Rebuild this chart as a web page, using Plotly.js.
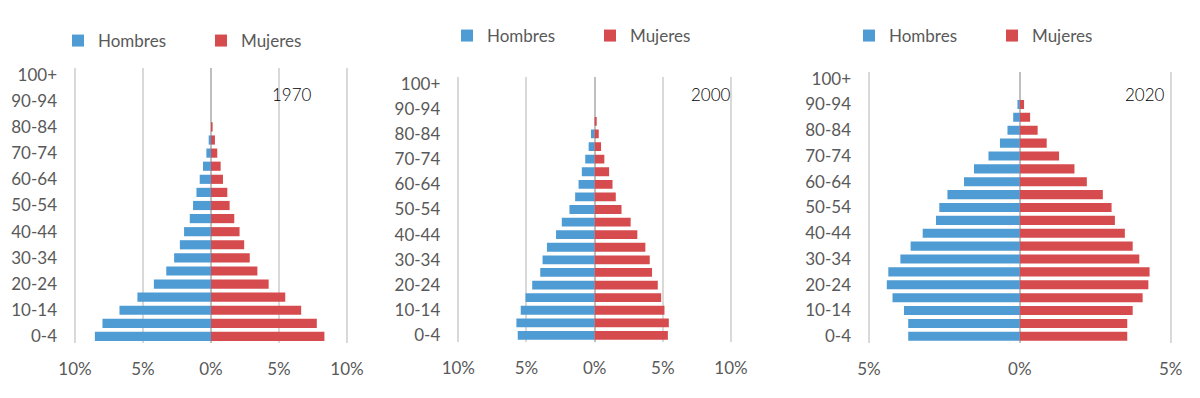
<!DOCTYPE html>
<html>
<head>
<meta charset="utf-8">
<script src="https://cdn.plot.ly/plotly-3.0.1.min.js"></script>
<style>html,body{margin:0;padding:0;background:#fff;}#chart{width:1200px;height:398px;}</style>
</head>
<body>
<div id="chart"></div>
<script>
// Age groups (bottom to top)
const ages = ['0-4','5-9','10-14','15-19','20-24','25-29','30-34','35-39','40-44','45-49',
              '50-54','55-59','60-64','65-69','70-74','75-79','80-84','85-89','90-94','95-99','100+'];
const ageTicks = ['0-4','10-14','20-24','30-34','40-44','50-54','60-64','70-74','80-84','90-94','100+'];

// Percent of population
const hombres1970 = [8.54,7.98,6.73,5.41,4.20,3.29,2.71,2.29,1.98,1.56,1.32,1.07,0.83,0.59,0.34,0.17,0,0,0,0,0];
const mujeres1970 = [8.34,7.78,6.63,5.46,4.24,3.41,2.85,2.44,2.10,1.71,1.37,1.20,0.88,0.71,0.46,0.29,0.12,0,0,0,0];
const hombres2000 = [5.64,5.74,5.42,5.07,4.58,3.99,3.82,3.50,2.83,2.41,1.85,1.43,1.18,0.94,0.69,0.44,0.27,0,0,0,0];
const mujeres2000 = [5.37,5.44,5.12,4.88,4.63,4.21,4.04,3.72,3.13,2.64,1.97,1.55,1.31,1.06,0.71,0.47,0.30,0.15,0,0,0];
const hombres2020 = [3.70,3.70,3.84,4.22,4.41,4.36,3.96,3.62,3.22,2.78,2.67,2.40,1.85,1.52,1.04,0.66,0.41,0.22,0.08,0,0];
const mujeres2020 = [3.56,3.56,3.74,4.07,4.26,4.30,3.96,3.74,3.48,3.15,3.04,2.75,2.22,1.81,1.30,0.89,0.59,0.34,0.14,0,0];

const years = ['1970','2000','2020'];
const seriesNames = ['Hombres','Mujeres'];
const xTicks10 = [-10,-5,0,5,10];
const xTickText10 = ['10%','5%','0%','5%','10%'];
const xTicks5 = [-5,0,5];
const xTickText5 = ['5%','0%','5%'];

const BLUE = '#4f9bd4';
const RED = '#d64b4d';
const FONT = 'Lato, "Open Sans", sans-serif';
const W = 1200, H = 398;

const panels = [
  {h: hombres1970, m: mujeres1970, ax: '', leg: 'legend'},
  {h: hombres2000, m: mujeres2000, ax: '2', leg: 'legend2'},
  {h: hombres2020, m: mujeres2020, ax: '3', leg: 'legend3'}
];

const traces = [];
panels.forEach(p => {
  traces.push({
    type: 'bar', orientation: 'h', name: seriesNames[0],
    y: ages, x: p.h.map(v => -v),
    marker: {color: BLUE}, xaxis: 'x' + p.ax, yaxis: 'y' + p.ax,
    legend: p.leg, hoverinfo: 'skip'
  });
  traces.push({
    type: 'bar', orientation: 'h', name: seriesNames[1],
    y: ages, x: p.m,
    marker: {color: RED}, xaxis: 'x' + p.ax, yaxis: 'y' + p.ax,
    legend: p.leg, hoverinfo: 'skip'
  });
});

// pad the range by a few pixels so the outermost gridlines are drawn
function xax(domainPx, lim, tv, tt, anchor) {
  const extra = 3;
  const pxPerUnit = (domainPx[1] - domainPx[0]) / (2 * lim);
  const pad = extra / pxPerUnit;
  return {
    domain: [(domainPx[0] - extra) / W, (domainPx[1] + extra) / W],
    range: [-lim - pad, lim + pad], anchor: anchor,
    tickvals: tv, ticktext: tt, showgrid: true, gridcolor: '#d9d9d9', gridwidth: 2,
    zeroline: true, zerolinecolor: '#bfbfbf', zerolinewidth: 2,
    showline: false, ticks: '', fixedrange: true, ticklabelstandoff: 14, automargin: false,
    tickfont: {family: FONT, size: 17, color: '#595959'}
  };
}
function yax(topPx, botPx, anchor) {
  return {
    domain: [(H - botPx) / H, (H - topPx) / H], type: 'category',
    categoryorder: 'array', categoryarray: ages,
    range: [-0.5, 20.5], anchor: anchor,
    tickvals: ageTicks, showgrid: false, zeroline: false, showline: false,
    ticks: '', ticklabelstandoff: 14, fixedrange: true, automargin: false,
    tickfont: {family: FONT, size: 17, color: '#595959'}
  };
}
function legendAt(xPx, yPx) {
  return {
    orientation: 'h', x: xPx / W, y: (H - yPx) / H, xanchor: 'left', yanchor: 'middle',
    font: {family: FONT, size: 17, color: '#595959'},
    entrywidth: 98, entrywidthmode: 'pixels', itemwidth: 30,
    bgcolor: 'rgba(0,0,0,0)', itemclick: false, itemdoubleclick: false
  };
}

const yearFont = {family: FONT, size: 17, color: '#000000', weight: 300};

const layout = {
  width: W, height: H,
  margin: {l: 0, r: 0, t: 0, b: 0, autoexpand: false},
  paper_bgcolor: '#ffffff', plot_bgcolor: '#ffffff',
  barmode: 'relative', bargap: 0.3,
  showlegend: true,
  xaxis: xax([75, 347], 10, xTicks10, xTickText10, 'y'),
  yaxis: yax(68, 343, 'x'),
  xaxis2: xax([458.3, 731], 10, xTicks10, xTickText10, 'y2'),
  yaxis2: yax(77.3, 341.7, 'x2'),
  xaxis3: xax([869, 1170.7], 5, xTicks5, xTickText5, 'y3'),
  yaxis3: yax(72.3, 342.7, 'x3'),
  legend: legendAt(58, 41),
  legend2: legendAt(447, 36),
  legend3: legendAt(849, 36),
  annotations: [
    {text: years[0], xref: 'paper', yref: 'paper', x: 291.7 / W, y: (H - 95) / H, showarrow: false,
     xanchor: 'center', yanchor: 'middle', font: yearFont},
    {text: years[1], xref: 'paper', yref: 'paper', x: 711 / W, y: (H - 95) / H, showarrow: false,
     xanchor: 'center', yanchor: 'middle', font: yearFont},
    {text: years[2], xref: 'paper', yref: 'paper', x: 1145 / W, y: (H - 94) / H, showarrow: false,
     xanchor: 'center', yanchor: 'middle', font: yearFont}
  ]
};

Plotly.newPlot('chart', traces, layout, {displayModeBar: false, staticPlot: true});
</script>
</body>
</html>
